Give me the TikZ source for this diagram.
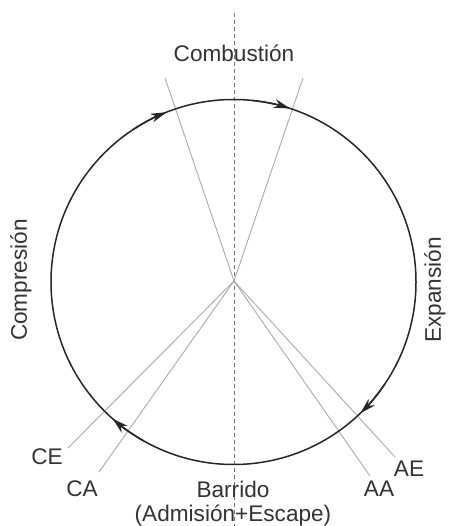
\documentclass[tikz,border=0pt]{standalone}
\usepackage{fontspec}
\setmainfont{Liberation Sans}
\usetikzlibrary{arrows.meta,calc}
\definecolor{txt}{HTML}{333333}
\definecolor{lgray}{HTML}{AAAAAA}
\definecolor{dgray}{HTML}{777777}
\begin{document}
\begin{tikzpicture}[x=1pt,y=1pt,
  lbl/.style={inner sep=0pt,text=txt,font=\fontsize{22.6}{26}\selectfont},
  ray/.style={draw=lgray,line width=0.9pt},
  cyc/.style={draw=black!85,line width=1.5pt},
  tip/.style={cyc,-{Stealth[length=16pt,width=9pt,inset=5pt]}}]
\useasboundingbox (0,0) rectangle (448,526);
\coordinate (C) at (233.5,244);
\coordinate (O) at (234,245);
\coordinate (top) at (234,513);
\coordinate (bot) at (234,0);
\draw[dgray,line width=0.9pt,dash pattern=on 4pt off 3pt] (top) -- (bot);
% rays
\coordinate (tl) at (165,448);
\coordinate (tr) at (303,448);
\coordinate (ce) at (68,78);
\coordinate (ca) at (99,54);
\coordinate (aa) at (370,50);
\coordinate (ae) at (395,69);
\foreach \p in {tl,tr,ce,ca,aa,ae} \draw[ray] (O) -- (\p);
% cycle circle
\draw[cyc] (C) circle [radius=182.5];
\foreach \a in {111.5,72,-46,228.5}
  \draw[tip] ($(C)+({\a+12}:182.5)$) arc[start angle=\a+12,end angle=\a,radius=182.5];
% labels
\node[lbl] (comb) at (234,473) {Combustión};
\node[lbl,rotate=90] (comp) at (21,246) {Compresión};
\node[lbl,rotate=90] (exp) at (435,236) {Expansión};
\node[lbl] (CE) at (47,69) {CE};
\node[lbl] (CA) at (82,37) {CA};
\node[lbl] (AA) at (379,37) {AA};
\node[lbl] (AE) at (409,57) {AE};
\node[lbl] (bar) at (233,37) {Barrido};
\node[lbl] (adm) at (233,10) {(Admisión+Escape)};
\end{tikzpicture}
\end{document}
